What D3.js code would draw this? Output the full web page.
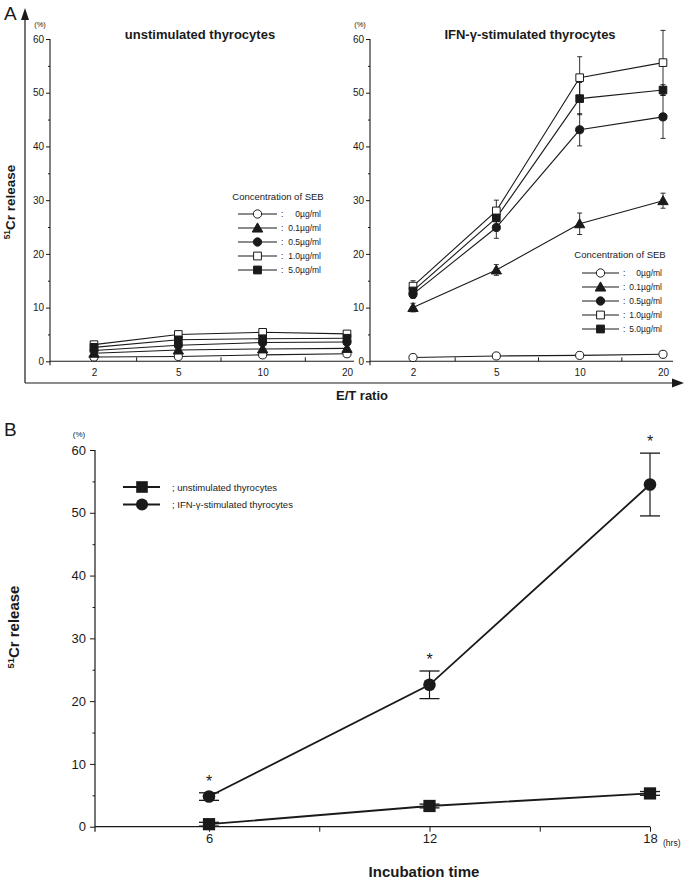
<!DOCTYPE html>
<html><head><meta charset="utf-8">
<script src="https://cdn.jsdelivr.net/npm/d3@7"></script>
<style>
body{margin:0;background:#fff;}
svg{display:block;font-family:"Liberation Sans",Arial,Helvetica,sans-serif;}
</style>
</head><body>
<svg id="c" width="685" height="881"></svg>
<script>
// ---------- DATA ----------
const etRatios = ["2", "5", "10", "20"];
const sebLabels = ["0\u00b5g/ml", "0.1\u00b5g/ml", "0.5\u00b5g/ml", "1.0\u00b5g/ml", "5.0\u00b5g/ml"];
const sebShapes = ["circle", "triangle", "circle", "square", "square"];
const sebFilled = [false, true, true, false, true];

// panel A, unstimulated thyrocytes (% 51Cr release) per SEB concentration
const unstimValues = [
  [0.8, 0.9, 1.2, 1.4],
  [1.5, 2.1, 2.3, 2.4],
  [2.0, 3.0, 3.5, 3.6],
  [3.1, 5.0, 5.4, 5.1],
  [2.6, 4.0, 4.2, 4.3]
];
// panel A, IFN-gamma-stimulated thyrocytes
const ifnValues = [
  [0.7, 1.0, 1.1, 1.3],
  [10.0, 17.0, 25.6, 29.9],
  [12.5, 24.9, 43.1, 45.5],
  [14.0, 28.0, 52.8, 55.6],
  [13.1, 26.7, 48.9, 50.5]
];
const ifnErrors = [
  [0, 0, 0, 0],
  [0.8, 1.0, 2.0, 1.4],
  [0.8, 2.0, 3.0, 4.0],
  [1.0, 2.0, 3.9, 6.0],
  [0.8, 1.5, 3.0, 1.0]
];
const yTicksA = [0, 10, 20, 30, 40, 50, 60];
const yMinorA = [5, 15, 25, 35, 45, 55];

// panel B, incubation time
const hours = [6, 12, 18];
const hourTicks = [6, 9, 12, 15, 18];
const hourLabels = [6, 12, 18];
const seriesB = ["; unstimulated thyrocytes", "; IFN-\u03b3-stimulated thyrocytes"];
const unstimTime = [0.4, 3.3, 5.3];
const unstimTimeErr = [0.3, 0.3, 0.3];
const ifnTime = [4.8, 22.6, 54.5];
const ifnTimeErr = [0.6, 2.2, 5.0];
const yTicksB = [0, 10, 20, 30, 40, 50, 60];
const yMinorB = [5, 15, 25, 35, 45, 55];

// ---------- DRAW ----------
const svg = d3.select("#c");
const INK = "#1a1a1a";

function symbolPath(shape, size) {
  const t = shape === "circle" ? d3.symbolCircle : shape === "triangle" ? d3.symbolTriangle : d3.symbolSquare;
  return d3.symbol().type(t).size(size)();
}
function sizeFor(shape, k) {
  if (shape === "circle") return 52 * k;
  if (shape === "triangle") return 46 * k;
  return 58 * k;
}

// Panel A frame arrows
const frame = svg.append("g");
frame.append("line").attr("x1", 25).attr("y1", 383).attr("x2", 25).attr("y2", 18).attr("stroke", INK).attr("stroke-width", 1.2);
frame.append("path").attr("d", "M25,8 L21,20 L29,20 Z").attr("fill", INK);
frame.append("line").attr("x1", 25).attr("y1", 383).attr("x2", 674).attr("y2", 383).attr("stroke", INK).attr("stroke-width", 1.2);
frame.append("path").attr("d", "M684,383 L672,378.5 L672,387.5 Z").attr("fill", INK);

svg.append("text").attr("x", 4).attr("y", 20).attr("font-size", 19).attr("fill", INK).text("A");
svg.append("text").attr("x", 4).attr("y", 436).attr("font-size", 19).attr("fill", INK).text("B");

function yLabel(x, y, fs) {
  const t = svg.append("text").attr("transform", `translate(${x},${y}) rotate(-90)`)
    .attr("text-anchor", "middle").attr("font-weight", "bold").attr("font-size", fs).attr("fill", INK);
  t.append("tspan").attr("font-size", fs * 0.62).attr("dy", -fs * 0.35).text("51");
  t.append("tspan").attr("dy", fs * 0.35).text("Cr release");
}
yLabel(15, 202, 13.5);
yLabel(19, 627, 15);

svg.append("text").attr("x", 362).attr("y", 400).attr("text-anchor", "middle")
  .attr("font-weight", "bold").attr("font-size", 13).attr("fill", INK).text("E/T ratio");

const yA = d3.scaleLinear().domain([0, 60]).range([361.3, 39]);

function panelA(opt) {
  const g = svg.append("g");
  const xi = d3.scaleLinear().domain([0, etRatios.length - 1]).range(opt.xr);
  const y0 = yA(0);
  // y axis
  const ya = g.append("g").attr("transform", `translate(${opt.ax},0)`)
    .call(d3.axisLeft(yA).tickValues(yTicksA).tickSize(4).tickPadding(2).tickSizeOuter(0));
  ya.select(".domain").remove();
  ya.selectAll("text").attr("font-size", 10).attr("fill", INK).attr("font-family", "Liberation Sans, Arial, sans-serif");
  ya.selectAll("line").attr("stroke", INK);
  const ym = g.append("g").attr("transform", `translate(${opt.ax},0)`)
    .call(d3.axisLeft(yA).tickValues(yMinorA).tickSize(2).tickFormat(""));
  ym.select(".domain").remove();
  ym.selectAll("line").attr("stroke", INK);
  g.append("line").attr("x1", opt.ax).attr("x2", opt.ax).attr("y1", yA(60)).attr("y2", y0 + 4).attr("stroke", INK).attr("stroke-width", 1.1);
  // x axis
  g.append("line").attr("x1", opt.ax).attr("x2", opt.xend).attr("y1", y0).attr("y2", y0).attr("stroke", INK).attr("stroke-width", 1.1);
  const xa = g.append("g").attr("transform", `translate(0,${y0})`)
    .call(d3.axisBottom(xi).tickValues(d3.range(etRatios.length)).tickFormat(i => etRatios[i]).tickSize(0).tickPadding(8));
  xa.select(".domain").remove();
  xa.selectAll("text").attr("font-size", 10).attr("fill", INK).attr("font-family", "Liberation Sans, Arial, sans-serif");
  const xm = g.append("g").attr("transform", `translate(0,${y0})`)
    .call(d3.axisTop(xi).tickValues(d3.range(etRatios.length - 1).map(i => i + 0.5)).tickSize(4).tickFormat(""));
  xm.select(".domain").remove();
  xm.selectAll("line").attr("stroke", INK);
  // (%) and title
  g.append("text").attr("x", opt.ax - 10).attr("y", 27).attr("text-anchor", "middle").attr("font-size", 7.5).attr("fill", INK).text("(%)");
  g.append("text").attr("x", opt.tx).attr("y", 39).attr("text-anchor", "middle").attr("font-weight", "bold").attr("font-size", 13).attr("fill", INK).text(opt.title);

  const line = d3.line().x((d, i) => xi(i)).y(d => yA(d));
  opt.values.forEach(vals => {
    g.append("path").attr("d", line(vals)).attr("fill", "none").attr("stroke", INK).attr("stroke-width", 1.1);
  });
  if (opt.errors) {
    opt.values.forEach((vals, s) => {
      vals.forEach((v, i) => {
        const e = opt.errors[s][i];
        if (!e) return;
        const x = xi(i);
        g.append("line").attr("x1", x).attr("x2", x).attr("y1", yA(v - e)).attr("y2", yA(v + e)).attr("stroke", INK).attr("stroke-width", 0.9);
        [v - e, v + e].forEach(w => g.append("line").attr("x1", x - 2.5).attr("x2", x + 2.5).attr("y1", yA(w)).attr("y2", yA(w)).attr("stroke", INK).attr("stroke-width", 0.9));
      });
    });
  }
  opt.values.forEach((vals, s) => {
    vals.forEach((v, i) => {
      g.append("path").attr("d", symbolPath(sebShapes[s], sizeFor(sebShapes[s], 1)))
        .attr("transform", `translate(${xi(i)},${yA(v) + (sebShapes[s] === "triangle" ? 1 : 0)})`)
        .attr("fill", sebFilled[s] ? INK : "#fff").attr("stroke", INK).attr("stroke-width", 1);
    });
  });
  // legend
  const L = opt.legend;
  g.append("text").attr("x", L.cx).attr("y", L.ty).attr("text-anchor", "middle").attr("font-size", 9.5).attr("fill", INK).text("Concentration of SEB");
  sebLabels.forEach((lab, s) => {
    const yy = L.y0 + s * 14;
    g.append("line").attr("x1", L.lx1).attr("x2", L.lx2).attr("y1", yy).attr("y2", yy).attr("stroke", INK).attr("stroke-width", 1.1);
    g.append("path").attr("d", symbolPath(sebShapes[s], sizeFor(sebShapes[s], 1.05)))
      .attr("transform", `translate(${(L.lx1 + L.lx2) / 2},${yy + (sebShapes[s] === "triangle" ? 1 : 0)})`)
      .attr("fill", sebFilled[s] ? INK : "#fff").attr("stroke", INK).attr("stroke-width", 1);
    g.append("text").attr("x", L.colon).attr("y", yy + 3).attr("font-size", 8.5).attr("fill", INK).text(":");
    g.append("text").attr("x", L.tend).attr("y", yy + 3).attr("text-anchor", "end").attr("font-size", 8.5).attr("fill", INK).text(lab);
  });
}

panelA({
  ax: 50, xr: [94, 347], xend: 354, tx: 200, title: "unstimulated thyrocytes",
  values: unstimValues, errors: null,
  legend: { cx: 278, ty: 200, y0: 214, lx1: 238, lx2: 277, colon: 281, tend: 321 }
});
panelA({
  ax: 370, xr: [413, 663], xend: 673, tx: 530, title: "IFN-\u03b3-stimulated thyrocytes",
  values: ifnValues, errors: ifnErrors,
  legend: { cx: 620, ty: 258, y0: 273, lx1: 582, lx2: 619, colon: 623, tend: 662 }
});

// ---------- Panel B ----------
const xB = d3.scaleLinear().domain([6, 18]).range([209, 650]);
const yB = d3.scaleLinear().domain([0, 60]).range([826.7, 450]);
const gB = svg.append("g");
const axB = 95;
const yBa = gB.append("g").attr("transform", `translate(${axB},0)`)
  .call(d3.axisLeft(yB).tickValues(yTicksB).tickSize(5).tickPadding(4).tickSizeOuter(0));
yBa.select(".domain").remove();
yBa.selectAll("text").attr("font-size", 13).attr("fill", INK).attr("font-family", "Liberation Sans, Arial, sans-serif");
yBa.selectAll("line").attr("stroke", INK);
const yBm = gB.append("g").attr("transform", `translate(${axB},0)`)
  .call(d3.axisLeft(yB).tickValues(yMinorB).tickSize(2.5).tickFormat(""));
yBm.select(".domain").remove();
yBm.selectAll("line").attr("stroke", INK);
gB.append("line").attr("x1", axB).attr("x2", axB).attr("y1", yB(60)).attr("y2", yB(0) + 5).attr("stroke", INK).attr("stroke-width", 1.2);
gB.append("line").attr("x1", axB).attr("x2", xB(18)).attr("y1", yB(0)).attr("y2", yB(0)).attr("stroke", INK).attr("stroke-width", 1.2);
const xBa = gB.append("g").attr("transform", `translate(0,${yB(0)})`)
  .call(d3.axisBottom(xB).tickValues(hourTicks).tickSize(5).tickPadding(2)
    .tickFormat(d => hourLabels.includes(d) ? d : ""));
xBa.select(".domain").remove();
xBa.selectAll("text").attr("font-size", 13).attr("fill", INK).attr("font-family", "Liberation Sans, Arial, sans-serif");
xBa.selectAll("line").attr("stroke", INK);
gB.append("text").attr("x", 79).attr("y", 437).attr("text-anchor", "middle").attr("font-size", 8).attr("fill", INK).text("(%)");
gB.append("text").attr("x", 663).attr("y", 846).attr("font-size", 8.5).attr("fill", INK).text("(hrs)");
svg.append("text").attr("x", 424).attr("y", 877).attr("text-anchor", "middle")
  .attr("font-weight", "bold").attr("font-size", 15).attr("fill", INK).text("Incubation time");

const lineB = d3.line().x((d, i) => xB(hours[i])).y(d => yB(d));
[unstimTime, ifnTime].forEach(vals => {
  gB.append("path").attr("d", lineB(vals)).attr("fill", "none").attr("stroke", INK).attr("stroke-width", 1.8);
});
function errB(vals, errs, star) {
  vals.forEach((v, i) => {
    const x = xB(hours[i]), e = errs[i];
    gB.append("line").attr("x1", x).attr("x2", x).attr("y1", yB(v - e)).attr("y2", yB(v + e)).attr("stroke", INK).attr("stroke-width", 1.2);
    [v - e, v + e].forEach(w => gB.append("line").attr("x1", x - 10).attr("x2", x + 10).attr("y1", yB(w)).attr("y2", yB(w)).attr("stroke", INK).attr("stroke-width", 1.3));
    if (star) gB.append("text").attr("x", x).attr("y", yB(v + e) - 6).attr("text-anchor", "middle").attr("font-size", 16).attr("fill", INK).text("*");
  });
}
errB(unstimTime, unstimTimeErr, false);
errB(ifnTime, ifnTimeErr, true);
unstimTime.forEach((v, i) => {
  gB.append("path").attr("d", symbolPath("square", 150)).attr("transform", `translate(${xB(hours[i])},${yB(v)})`).attr("fill", INK);
});
ifnTime.forEach((v, i) => {
  gB.append("path").attr("d", symbolPath("circle", 125)).attr("transform", `translate(${xB(hours[i])},${yB(v)})`).attr("fill", INK);
});
// legend B
[["square", 135], ["circle", 115]].forEach((s, k) => {
  const yy = 487 + k * 17.5;
  gB.append("line").attr("x1", 123).attr("x2", 160).attr("y1", yy).attr("y2", yy).attr("stroke", INK).attr("stroke-width", 1.8);
  gB.append("path").attr("d", symbolPath(s[0], s[1])).attr("transform", `translate(142,${yy})`).attr("fill", INK);
  gB.append("text").attr("x", 172).attr("y", yy + 3.5).attr("font-size", 9.5).attr("fill", INK).text(seriesB[k]);
});
</script>
</body></html>
